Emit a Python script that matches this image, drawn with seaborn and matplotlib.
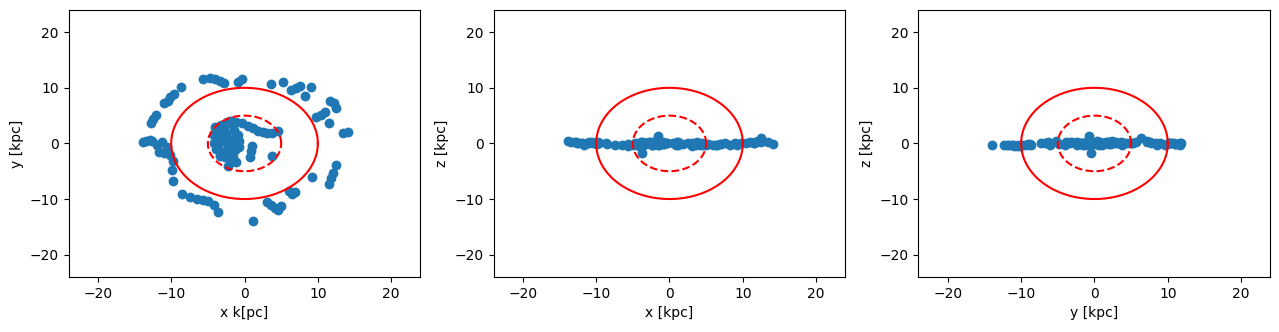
import numpy as np
import matplotlib
matplotlib.use('Agg')
import matplotlib.pyplot as plt
import seaborn as sns

# star positions in kpc
x_kpc = [-13.9, -13.4, -12.9, -12.6, -12.8, -12.5, -12.1, -11.0, -10.5, -10.1,
         -9.6, -8.6, -5.6, -4.7, -4.0, -3.3, -2.8, -0.9, -0.4, 3.6,
         5.3, 6.4, 7.0, 7.6, 8.2, 9.0, 9.8, 10.4, 11.0, 11.5,
         11.7, 12.2, 12.5, 13.4, 14.1, 12.5, 12.1, 11.8, 11.5, 9.2,
         6.0, 6.5, 6.9, 3.1, 3.6, 4.1, 4.6, 5.0, 1.2, -3.6,
         -4.2, -5.0, -5.6, -6.5, -7.4, -8.5, -9.7, -9.9, -11.0, -11.6,
         -10.2, -9.7, -10.6, -11.3, -11.9,
         # inner bulge
         -3.8, -3.5, -3.3, -3.6, -3.0, -2.8, -2.5, -2.4, -2.2, -2.0,
         -1.7, -1.5, -1.4, -1.2, -1.3, -3.8, -1.6, -2.3, -1.1, -4.2,
         -4.0, -4.1, -3.9, -3.2, -2.4, -2.0, -1.2, -2.9, -1.9, -0.9,
         -0.7, -0.8, -2.6, -1.6, -3.3, -0.3, 0.5, 1.1, 1.8, 2.5,
         3.1, 3.8, 4.5, 1.0, 0.9, 0.7, 3.7, -1.9]
y_kpc = [0.3, 0.5, 0.7, 0.4, 3.6, 4.4, 5.2, 7.2, 7.7, 8.4,
         8.9, 10.1, 11.6, 11.8, 11.6, 11.3, 10.9, 11.0, 11.6, 10.6,
         11.0, 9.6, 9.9, 10.3, 8.5, 10.2, 4.8, 5.1, 5.6, 3.6,
         7.6, 7.2, 6.4, 1.9, 2.0, -3.9, -5.3, -6.3, -7.3, -6.1,
         -8.6, -9.1, -8.8, -10.5, -11.1, -11.6, -11.9, -11.3, -14.0, -12.4,
         -11.0, -10.4, -10.1, -10.0, -9.6, -9.1, -6.7, -4.8, -1.8, -1.5,
         -2.0, -3.1, -0.6, 0.2, -0.3,
         2.2, 1.2, 0.2, -0.8, -1.5, 2.8, 1.8, 0.6, -0.5, -1.8,
         3.5, 2.4, 1.0, -0.2, -1.2, -0.5, -0.8, -4.0, -3.4, 1.5,
         3.0, 0.0, -1.0, 3.3, 3.8, 4.0, 3.9, 0.9, 0.4, 1.6,
         0.4, -0.6, -2.4, -2.4, -2.2, 3.6, 3.1, 2.7, 2.3, 2.1,
         1.9, 1.8, 2.3, -0.4, -1.3, -2.5, -2.2, -3.3]
z_kpc = [0.4, 0.3, 0.2, 0.1, 0.2, 0.0, 0.1, 0.2, 0.1, 0.0,
         0.1, 0.0, -0.1, 0.0, -0.2, -0.1, 0.0, -0.1, 0.0, 0.0,
         -0.1, -0.2, -0.1, 0.0, -0.2, 0.0, 0.1, 0.0, 0.2, 0.1,
         0.3, 0.4, 1.0, 0.2, -0.1, 0.3, 0.5, 0.2, 0.0, -0.2,
         -0.3, -0.2, -0.1, -0.4, -0.3, -0.2, -0.3, -0.2, -0.3, -0.3,
         -0.4, -0.3, -0.5, -0.3, -0.2, -0.1, 0.1, -0.1, 0.1, -0.2,
         0.0, 0.2, 0.3, 0.1, 0.0,
         0.2, -0.1, 0.1, -0.2, 0.0, 0.3, 0.0, -0.3, 0.2, -0.1,
         0.1, 0.4, -0.2, 0.0, 0.3, -1.8, 1.4, -0.2, 0.1, 0.0,
         0.1, -0.1, 0.2, 0.0, -0.2, 0.1, 0.0, 0.1, -0.1, 0.2,
         -0.1, 0.0, 0.3, -0.2, 0.1, 0.0, 0.1, 0.2, -0.1, 0.1,
         0.0, 0.2, 0.1, 0.3, -0.2, 0.0, 0.1, 0.2]

radii = [10, 5]
styles = ['-', '--']

panels = [(x_kpc, y_kpc, 'x k[pc]', 'y [kpc]'),
          (x_kpc, z_kpc, 'x [kpc]', 'z [kpc]'),
          (y_kpc, z_kpc, 'y [kpc]', 'z [kpc]')]

fig, axes = plt.subplots(1, 3, figsize=(12.79, 3.32), dpi=100)
theta = np.linspace(0, 2 * np.pi, 300)

for ax, (h, v, xl, yl) in zip(axes, panels):
    sns.scatterplot(x=h, y=v, ax=ax, s=50, linewidth=0, color='C0')
    for r, ls in zip(radii, styles):
        ax.plot(r * np.cos(theta), r * np.sin(theta), color='red', linestyle=ls)
    ax.set_xlim(-24, 24)
    ax.set_ylim(-24, 24)
    ax.set_xticks([-20, -10, 0, 10, 20])
    ax.set_yticks([-20, -10, 0, 10, 20])
    ax.set_xlabel(xl)
    ax.set_ylabel(yl)

plt.subplots_adjust(left=0.0536, right=0.9933, bottom=0.166, top=0.970, wspace=0.2075)
plt.savefig('out.png', dpi=100)
